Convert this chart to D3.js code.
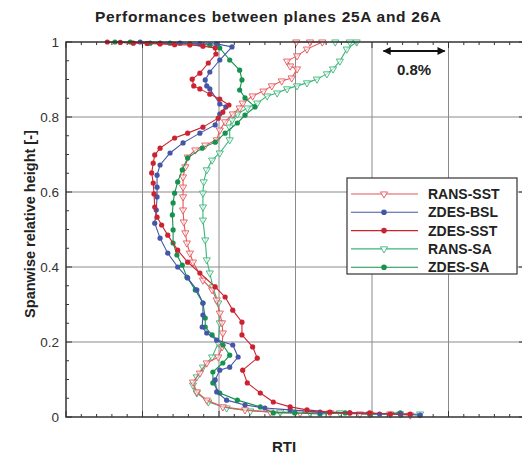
<!DOCTYPE html>
<html>
<head>
<meta charset="utf-8">
<script src="https://cdn.jsdelivr.net/npm/d3@7"></script>
<style>
  body { margin: 0; background: #fff; }
  svg { font-family: "Liberation Sans", Arial, sans-serif; }
</style>
</head>
<body>
<script>
// RTI is read in grid units (one grid cell ~ 1 %)
var ransSstRti  = [3.01,3.19,3.35,3.15,3.02,2.89,2.93,3.02,2.95,2.82,2.69,2.58,2.44,2.31,2.27,2.18,2.08,2.01,1.97,1.82,1.69,1.59,1.56,1.53,1.53,1.53,1.53,1.54,1.56,1.58,1.62,1.66,1.79,1.91,1.97,2.01,2.04,2.05,2.04,1.99,1.84,1.75,1.66,1.71,1.84,2.05,2.34,2.67,3.06,3.45,3.84,4.24,4.50];
var ransSstSpan = [1.0,1.0,1.0,0.981,0.963,0.949,0.936,0.928,0.904,0.896,0.883,0.869,0.856,0.837,0.824,0.808,0.787,0.765,0.739,0.725,0.712,0.693,0.667,0.64,0.613,0.587,0.552,0.52,0.491,0.464,0.437,0.413,0.365,0.339,0.312,0.277,0.251,0.224,0.187,0.16,0.144,0.117,0.093,0.067,0.045,0.027,0.019,0.013,0.011,0.011,0.008,0.008,0.005];

var zdesBslRti  = [0.97,1.23,1.49,1.75,1.97,2.17,2.01,1.88,1.82,1.84,1.88,2.01,2.09,2.01,1.95,1.75,1.53,1.36,1.23,1.19,1.19,1.19,1.18,1.16,1.23,1.33,1.46,1.59,1.71,1.79,1.79,1.78,1.84,1.97,2.18,2.25,2.14,2.01,1.95,1.97,2.10,2.34,2.60,2.93,3.32,3.71,4.10,4.37,4.63];
var zdesBslSpan = [1.0,0.997,0.997,0.995,0.995,0.987,0.952,0.92,0.899,0.883,0.875,0.835,0.827,0.808,0.779,0.757,0.731,0.704,0.672,0.645,0.613,0.587,0.552,0.517,0.477,0.437,0.4,0.371,0.339,0.304,0.272,0.24,0.224,0.205,0.192,0.16,0.133,0.125,0.099,0.067,0.045,0.032,0.024,0.019,0.013,0.011,0.008,0.008,0.005];

var zdesSstRti  = [0.54,0.71,0.88,1.06,1.23,1.42,1.62,1.79,1.95,1.96,1.86,1.75,1.65,1.67,1.75,1.88,2.01,2.13,2.05,1.99,1.79,1.59,1.42,1.23,1.16,1.14,1.12,1.14,1.15,1.16,1.19,1.25,1.33,1.46,1.59,1.75,1.95,2.08,2.18,2.30,2.30,2.44,2.50,2.31,2.37,2.54,2.71,2.93,3.15,3.45,3.71,3.97,4.24,4.50];
var zdesSstSpan = [1.0,0.999,0.997,0.996,0.995,0.993,0.992,0.989,0.984,0.968,0.944,0.917,0.901,0.883,0.875,0.861,0.848,0.832,0.813,0.797,0.773,0.757,0.744,0.717,0.699,0.677,0.651,0.624,0.595,0.56,0.533,0.512,0.485,0.445,0.413,0.384,0.347,0.32,0.285,0.253,0.219,0.187,0.157,0.125,0.091,0.064,0.04,0.027,0.019,0.013,0.011,0.011,0.008,0.008];

var ransSaRti  = [3.52,3.71,3.80,3.67,3.58,3.49,3.41,3.28,3.15,3.02,2.89,2.76,2.63,2.50,2.37,2.24,2.17,2.14,2.14,2.01,1.91,1.84,1.80,1.79,1.79,1.79,1.82,1.84,1.88,1.92,1.99,2.01,1.99,1.91,1.79,1.71,1.66,1.71,1.86,2.10,2.41,2.80,3.19,3.58,3.97,4.37,4.63];
var ransSaSpan = [1.0,1.0,1.0,0.981,0.949,0.928,0.915,0.901,0.891,0.883,0.875,0.864,0.856,0.837,0.824,0.808,0.792,0.773,0.739,0.704,0.685,0.659,0.627,0.597,0.56,0.525,0.472,0.419,0.384,0.347,0.304,0.251,0.197,0.16,0.133,0.107,0.085,0.064,0.04,0.024,0.016,0.013,0.011,0.011,0.008,0.008,0.008];

var zdesSaRti  = [0.64,0.84,1.10,1.36,1.62,1.88,2.01,2.14,2.27,2.30,2.27,2.34,2.47,2.34,2.24,2.08,1.95,1.78,1.59,1.52,1.46,1.42,1.40,1.39,1.40,1.40,1.45,1.52,1.58,1.69,1.79,1.82,1.82,1.91,2.05,2.14,2.05,1.92,1.92,2.01,2.24,2.54,2.71,2.99,3.32,3.65,3.97,4.37];
var zdesSaSpan = [1.0,1.0,0.997,0.997,0.995,0.992,0.984,0.952,0.925,0.899,0.872,0.851,0.827,0.805,0.784,0.757,0.733,0.717,0.691,0.659,0.627,0.597,0.571,0.539,0.499,0.464,0.432,0.405,0.373,0.339,0.304,0.264,0.24,0.219,0.192,0.165,0.144,0.12,0.091,0.064,0.045,0.027,0.011,0.011,0.008,0.011,0.008,0.011];

var legendNames = ['RANS-SST', 'ZDES-BSL', 'ZDES-SST', 'RANS-SA', 'ZDES-SA'];
var yTicks = [0, 0.2, 0.4, 0.6, 0.8, 1];
var xGrid = [1, 2, 3, 4, 5];
var scaleBar = [4.15, 4.95];   // 0.8 %

var series = [
	{ name: 'RANS-SA',  x: ransSaRti,  y: ransSaSpan,  color: '#3bb57a', open: true },
	{ name: 'RANS-SST', x: ransSstRti, y: ransSstSpan, color: '#e4575a', open: true },
	{ name: 'ZDES-SA',  x: zdesSaRti,  y: zdesSaSpan,  color: '#16924f', open: false },
	{ name: 'ZDES-BSL', x: zdesBslRti, y: zdesBslSpan, color: '#4356a8', open: false },
	{ name: 'ZDES-SST', x: zdesSstRti, y: zdesSstSpan, color: '#cc2330', open: false }
];
var byName = {};
series.forEach(function(s) { byName[s.name] = s; });

var W = 522, H = 456,
	pL = 66, pT = 42, pR = 525, pB = 417;

var svg = d3.select('body').append('svg')
	.attr('width', W)
	.attr('height', H);

var x = d3.scaleLinear().domain([0, 6]).range([pL, pR]);
var y = d3.scaleLinear().domain([0, 1]).range([pB, pT]);

// grid
svg.append('g').selectAll('line').data(xGrid).enter().append('line')
	.attr('x1', function(d) { return x(d); }).attr('x2', function(d) { return x(d); })
	.attr('y1', pT).attr('y2', pB)
	.attr('stroke', '#8a8a8a').attr('stroke-width', 1);
svg.append('g').selectAll('line').data([0.2, 0.4, 0.6, 0.8]).enter().append('line')
	.attr('y1', function(d) { return y(d); }).attr('y2', function(d) { return y(d); })
	.attr('x1', pL).attr('x2', pR)
	.attr('stroke', '#8a8a8a').attr('stroke-width', 1);

// ticks, inward on all sides
var xMinor = d3.range(0, 6.001, 0.2), yMinor = d3.range(0, 1.001, 0.05);
function isMajor(v, step) { return Math.abs(v / step - Math.round(v / step)) < 1e-6; }
var tk = svg.append('g').attr('stroke', '#333').attr('stroke-width', 1);
xMinor.forEach(function(v) {
	var len = isMajor(v, 1) ? 6 : 3;
	tk.append('line').attr('x1', x(v)).attr('x2', x(v)).attr('y1', pB).attr('y2', pB - len);
	tk.append('line').attr('x1', x(v)).attr('x2', x(v)).attr('y1', pT).attr('y2', pT + len);
});
yMinor.forEach(function(v) {
	var len = isMajor(v, 0.2) ? 6 : 3;
	tk.append('line').attr('y1', y(v)).attr('y2', y(v)).attr('x1', pL).attr('x2', pL + len);
	tk.append('line').attr('y1', y(v)).attr('y2', y(v)).attr('x1', pR).attr('x2', pR - len);
});

// curves
var line = d3.line()
	.x(function(d) { return x(d[0]); })
	.y(function(d) { return y(d[1]); });
var tri = d3.symbol().type(d3.symbolTriangle).size(22);

series.forEach(function(s) {
	var pts = s.x.map(function(v, i) { return [v, s.y[i]]; });
	var g = svg.append('g');
	g.append('path').datum(pts)
		.attr('d', line)
		.attr('fill', 'none')
		.attr('stroke', s.color)
		.attr('stroke-width', 1.1);
	if (s.open) {
		g.selectAll('path.m').data(pts).enter().append('path')
			.attr('class', 'm')
			.attr('d', tri)
			.attr('transform', function(d) { return 'translate(' + x(d[0]) + ',' + y(d[1]) + ')rotate(180)'; })
			.attr('fill', 'white').attr('fill-opacity', 0.6)
			.attr('stroke', s.color).attr('stroke-width', 0.9);
	} else {
		g.selectAll('circle').data(pts).enter().append('circle')
			.attr('cx', function(d) { return x(d[0]); })
			.attr('cy', function(d) { return y(d[1]); })
			.attr('r', 2.6)
			.attr('fill', s.color);
	}
});

// frame
svg.append('rect')
	.attr('x', pL).attr('y', pT)
	.attr('width', pR - pL).attr('height', pB - pT)
	.attr('fill', 'none').attr('stroke', '#333').attr('stroke-width', 1.5);

// y tick labels
svg.append('g').selectAll('text').data(yTicks).enter().append('text')
	.attr('x', pL - 7)
	.attr('y', function(d) { return y(d) + 4.5; })
	.attr('text-anchor', 'end')
	.attr('font-size', 13.5)
	.attr('fill', '#333')
	.text(function(d) { return d === 0 || d === 1 ? d : d.toFixed(1); });

// titles
svg.append('text')
	.attr('x', 268).attr('y', 22)
	.attr('text-anchor', 'middle')
	.attr('font-size', 15.5).attr('font-weight', 'bold')
	.attr('fill', '#222')
	.attr('textLength', 346)
	.text('Performances between planes 25A and 26A');
svg.append('text')
	.attr('transform', 'translate(35,224)rotate(-90)')
	.attr('text-anchor', 'middle')
	.attr('font-size', 14.5).attr('font-weight', 'bold')
	.attr('fill', '#222')
	.text('Spanwise relative height [-]');
svg.append('text')
	.attr('x', 284).attr('y', 452)
	.attr('text-anchor', 'middle')
	.attr('font-size', 15).attr('font-weight', 'bold')
	.attr('fill', '#222')
	.text('RTI');

// 0.8 % scale arrow
var defs = svg.append('defs');
defs.append('marker')
	.attr('id', 'ah')
	.attr('viewBox', '0 0 10 10')
	.attr('refX', 9).attr('refY', 5)
	.attr('markerWidth', 5).attr('markerHeight', 4)
	.attr('orient', 'auto-start-reverse')
	.append('path').attr('d', 'M0,0L10,5L0,10Z').attr('fill', '#111');
svg.append('line')
	.attr('x1', x(scaleBar[0])).attr('x2', x(scaleBar[1]))
	.attr('y1', 51).attr('y2', 51)
	.attr('stroke', '#111').attr('stroke-width', 2)
	.attr('marker-start', 'url(#ah)').attr('marker-end', 'url(#ah)');
svg.append('text')
	.attr('x', x((scaleBar[0] + scaleBar[1]) / 2)).attr('y', 75)
	.attr('text-anchor', 'middle')
	.attr('font-size', 15).attr('font-weight', 'bold')
	.attr('fill', '#222')
	.text('0.8%');

// legend
var lg = svg.append('g');
lg.append('rect')
	.attr('x', 347).attr('y', 178).attr('width', 170).attr('height', 96)
	.attr('fill', 'white').attr('stroke', '#333').attr('stroke-width', 1.2);
legendNames.forEach(function(n, i) {
	var s = byName[n], ly = 194 + i * 18.3;
	lg.append('line').attr('x1', 351).attr('x2', 418).attr('y1', ly).attr('y2', ly)
		.attr('stroke', s.color).attr('stroke-width', 1.1);
	if (s.open) {
		lg.append('path').attr('d', tri)
			.attr('transform', 'translate(384,' + ly + ')rotate(180)')
			.attr('fill', 'white').attr('stroke', s.color).attr('stroke-width', 0.9);
	} else {
		lg.append('circle').attr('cx', 384).attr('cy', ly).attr('r', 2.8).attr('fill', s.color);
	}
	lg.append('text')
		.attr('x', 428).attr('y', ly + 5)
		.attr('font-size', 14).attr('font-weight', 'bold')
		.attr('fill', '#222')
		.text(n);
});
</script>
</body>
</html>
